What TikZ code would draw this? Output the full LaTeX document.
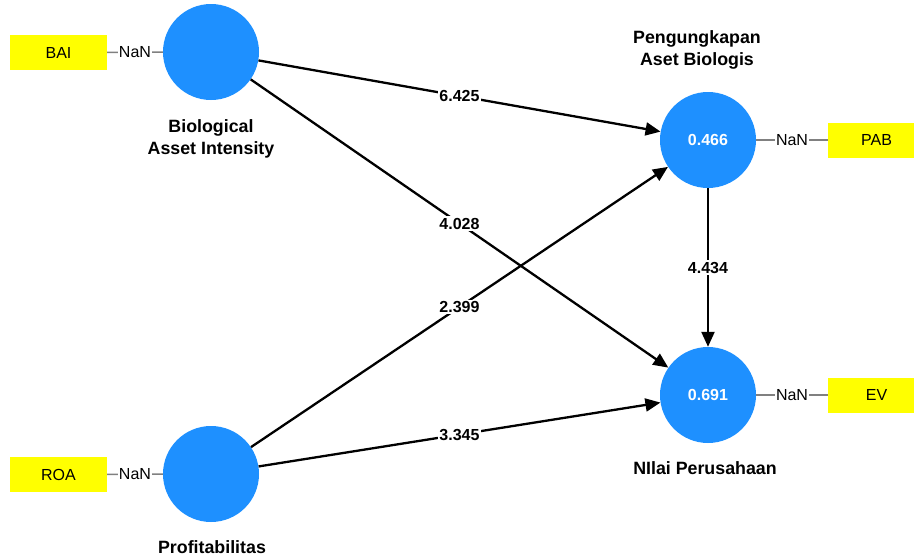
\documentclass[tikz,border=0pt]{standalone}
\usepackage{fontspec}
\setmainfont{Liberation Sans}
\usetikzlibrary{arrows.meta}

\definecolor{lvblue}{HTML}{1E90FF}
\definecolor{mvyellow}{HTML}{FFFF00}

\begin{document}
\begin{tikzpicture}[
		x = 1pt, y = -1pt,
		every node/.style = {font=\fontsize{16}{22}\selectfont},
		latent/.style = {circle, fill=lvblue, minimum size=96pt, inner sep=0, text=white, font=\bfseries\fontsize{16}{22}\selectfont},
		indicator/.style = {rectangle, fill=mvyellow, minimum width=97pt, minimum height=35pt, inner sep=0},
		nan/.style = {fill=white, inner sep=1pt},
		loading/.style = {draw=gray, line width=1.6pt},
		effect/.style = {line width=2.3pt, -{Triangle[length=15pt,width=13pt]}},
		coef/.style = {fill=white, inner sep=1.5pt, font=\bfseries\fontsize{16}{22}\selectfont},
		title/.style = {align=center, font=\bfseries\fontsize{17.8}{22}\selectfont}
	]

	\useasboundingbox (0,0) rectangle (914,560);

	% latent variables
	\node[latent] (bai) at (211,52) {};
	\node[latent] (roa) at (211,474) {};
	\node[latent] (pab) at (708,140) {0.466};
	\node[latent] (ev)  at (708,395) {0.691};

	\node[title] (baititle) at (211,139) {Biological\\Asset Intensity};
	\node[title] (roatitle) at (212,547) {Profitabilitas};
	\node[title] (pabtitle) at (697,50) {Pengungkapan\\Aset Biologis};
	\node[title] (evtitle)  at (705,468) {NIlai Perusahaan};

	% indicators
	\node[indicator] (baibox) at (58.5,52.5) {BAI};
	\node[indicator] (roabox) at (58.5,474.5) {ROA};
	\node[indicator] (pabbox) at (876.5,140) {PAB};
	\node[indicator] (evbox)  at (876.5,395) {EV};

	\draw[loading] (baibox) -- node[nan]{NaN} (bai);
	\draw[loading] (roabox) -- node[nan]{NaN} (roa);
	\draw[loading] (pab) -- node[nan]{NaN} (pabbox);
	\draw[loading] (ev) -- node[nan]{NaN} (evbox);

	% structural paths
	\draw[effect] (bai) -- node[coef]{6.425} (pab);
	\draw[effect] (bai) -- node[coef]{4.028} (ev);
	\draw[effect] (roa) -- node[coef]{2.399} (pab);
	\draw[effect] (roa) -- node[coef]{3.345} (ev);
	\draw[effect] (pab) -- node[coef]{4.434} (ev);

\end{tikzpicture}
\end{document}
